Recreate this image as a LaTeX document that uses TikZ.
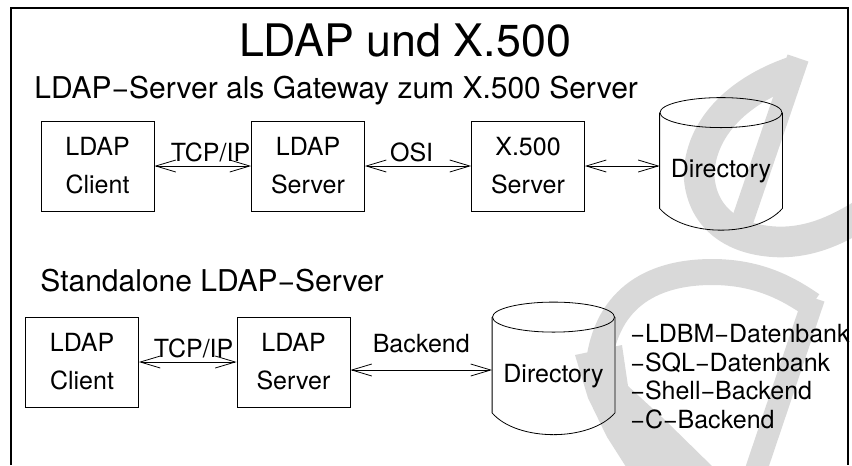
\documentclass[tikz,border=0pt]{standalone}
\usepackage{fontspec}
\setmainfont{TeX Gyre Heros}
\usetikzlibrary{arrows.meta,calc}

\definecolor{wmgray}{gray}{0.85}

% drum outline round a db node (north = centre of the lid)
\newcommand{\dbdrum}[1]{%
  \draw (#1.north) ellipse [x radius=61, y radius=15];
  \draw (#1.north west) -- ($(#1.south west)+(0,-22)$)
    .. controls +(25,29) and +(-25,29) .. ($(#1.south east)+(0,-22)$)
    -- (#1.north east);
}

\begin{document}
\begin{tikzpicture}[x=0.75pt, y=-0.75pt, line width=0.6pt,
  >={Straight Barb[length=15pt,width=9pt]},
  every node/.style={font=\fontsize{18.75}{28.5}\selectfont},
  box/.style={draw, minimum width=84.75pt, minimum height=67.5pt, align=center},
  sunk/.style={execute at begin node={\rule{0pt}{22pt}}},
  db/.style={minimum width=91.5pt, minimum height=87.75pt, inner sep=0pt},
  caption/.style={inner sep=0pt, anchor=base west},
  tag/.style={above, inner sep=2.5pt},
  link/.style={<->},
  logo/.style={draw=wmgray}]
  \useasboundingbox (0,0) rectangle (852,465);

  % logo in the background
  \draw[logo, line width=23pt] (792,72) .. controls (735,92) and (700,130) .. (699,175)
    .. controls (701,215) and (730,241) .. (780,242) .. controls (810,242) and (835,231) .. (860,216);
  \draw[logo, line width=16.5pt] (798,58) -- (742,222);
  \draw[logo, line width=19.5pt] (598,372) .. controls (603,300) and (650,272) .. (712,272)
    .. controls (760,272) and (790,290) .. (812,305);
  \draw[logo, line width=16.5pt] (814,298) -- (756,470);
  \fill[wmgray] (575,355) -- (622,345) -- (628,386) -- (665,420) -- (716,470)
    -- (628,470) -- (607,437) -- (588,398) -- cycle;

  % frame
  \draw[line width=1pt] (11,465) -- (11,8) -- (848,8) -- (848,465);

  \node[inner sep=0pt, anchor=base, font=\fontsize{33.6}{40}\selectfont] (title) at (405,56) {LDAP und X.500};

  % gateway
  \node[caption, font=\fontsize{22.5}{27}\selectfont] (sub1) at (34,98) {LDAP−Server als Gateway zum X.500 Server};
  \node[box, sunk] (cli1) at (97.5,166) {LDAP\\Client};
  \node[box, sunk] (srv1) at (308,166) {LDAP\\Server};
  \node[box, sunk] (x500) at (528,166) {X.500\\Server};
  \node[db] (dir1) at (721,171.5) {Directory};
  \dbdrum{dir1}
  \draw[link] (cli1) -- node[tag, pos=0.58] {TCP/IP} (srv1);
  \draw[link] (srv1) -- node[tag, pos=0.44] {OSI} (x500);
  \draw[link] (x500) -- (x500 -| dir1.west);

  % standalone
  \node[caption, font=\fontsize{22.5}{27}\selectfont] (sub2) at (40,291) {Standalone LDAP−Server};
  \node[box] (cli2) at (82,362) {LDAP\\Client};
  \node[box] (srv2) at (293.5,362) {LDAP\\Server};
  \node[db] (dir2) at (553.5,376) {Directory};
  \dbdrum{dir2}
  \draw[link] (cli2) -- node[tag, pos=0.56] {TCP/IP} (srv2);
  \draw[link] ([yshift=-6pt]srv2.east) -- node[tag, above=10pt] {Backend} ([yshift=-6pt]srv2.east -| dir2.west);
  \node[caption, anchor=north west, align=left, font=\fontsize{18.75}{21.4}\selectfont] (backends) at (630,324)
    {−LDBM−Datenbank\\−SQL−Datenbank\\−Shell−Backend\\−C−Backend};
\end{tikzpicture}
\end{document}
